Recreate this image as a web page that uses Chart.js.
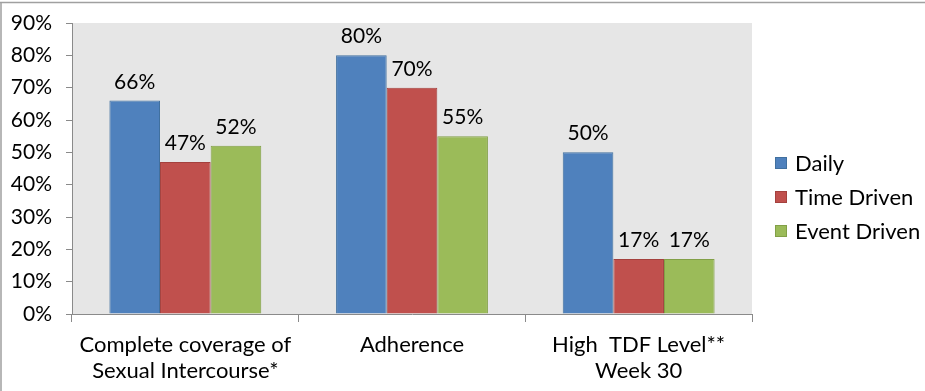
<!DOCTYPE html>
<html>
<head>
<meta charset="utf-8">
<script src="https://cdn.jsdelivr.net/npm/chart.js@4/dist/chart.umd.min.js"></script>
<style>
  html, body { margin: 0; padding: 0; background: #fff; }
  #wrap { position: relative; width: 925px; height: 391px; }
</style>
</head>
<body>
<div id="wrap"><canvas id="c" width="925" height="391"></canvas></div>
<script>
// Outcome categories (multi-line labels)
const categories = [
  ["Complete coverage of", "Sexual Intercourse*"],
  ["Adherence"],
  ["High  TDF Level**", "Week 30"]
];
const seriesNames = ["Daily", "Time Driven", "Event Driven"];
const daily = [66, 80, 50];
const timeDriven = [47, 70, 17];
const eventDriven = [52, 55, 17];
const yTicks = [0, 10, 20, 30, 40, 50, 60, 70, 80, 90];

const FONT = "Lato, 'Gill Sans', 'Open Sans', sans-serif";
const fills = ["#4f81bd", "#c0504d", "#9bbb59"];
const edges = ["#41709f", "#a4413e", "#82a047"];
const values = [daily, timeDriven, eventDriven];

// Grey plot background and outer frame lines
const backdrop = {
  id: "backdrop",
  beforeDraw(chart) {
    const { ctx, chartArea: a } = chart;
    ctx.save();
    ctx.fillStyle = "#e6e6e6";
    ctx.fillRect(a.left, a.top, a.right - a.left, a.bottom - a.top);
    ctx.strokeStyle = "#a0a0a0";
    ctx.lineWidth = 1.5;
    ctx.beginPath();
    ctx.moveTo(0, 2.5); ctx.lineTo(chart.width, 2.5);
    ctx.moveTo(1, 2.5); ctx.lineTo(1, chart.height);
    ctx.stroke();
    ctx.restore();
  }
};

// Percentage labels above each bar
const barLabels = {
  id: "barLabels",
  afterDatasetsDraw(chart) {
    const { ctx } = chart;
    ctx.save();
    ctx.font = "21px " + FONT;
    ctx.fillStyle = "#000";
    ctx.textAlign = "center";
    ctx.textBaseline = "alphabetic";
    chart.data.datasets.forEach((ds, di) => {
      chart.getDatasetMeta(di).data.forEach((bar, i) => {
        ctx.fillText(ds.data[i] + "%", bar.x, bar.y - 12);
      });
    });
    ctx.restore();
  }
};

// Legend drawn at the right, square swatches
const sideLegend = {
  id: "sideLegend",
  afterDraw(chart) {
    const { ctx } = chart;
    ctx.save();
    ctx.font = "22px " + FONT;
    ctx.textBaseline = "middle";
    ctx.textAlign = "left";
    chart.data.datasets.forEach((ds, i) => {
      const cy = 163 + i * 34;
      ctx.fillStyle = ds.backgroundColor;
      ctx.fillRect(775, cy - 6, 12, 12);
      ctx.strokeStyle = ds.borderColor;
      ctx.lineWidth = 1;
      ctx.strokeRect(775.5, cy - 5.5, 11, 11);
      ctx.fillStyle = "#000";
      ctx.fillText(ds.label, 795, cy + 1);
    });
    ctx.restore();
  }
};

new Chart(document.getElementById("c"), {
  type: "bar",
  data: {
    labels: categories,
    datasets: seriesNames.map((name, i) => ({
      label: name,
      data: values[i],
      backgroundColor: fills[i],
      borderColor: edges[i],
      borderWidth: 1,
      borderSkipped: "bottom",
      barPercentage: 1,
      categoryPercentage: 0.67
    }))
  },
  options: {
    responsive: false,
    animation: false,
    events: [],
    layout: { padding: { top: 23, right: 173, left: 0, bottom: 0 } },
    plugins: { legend: { display: false }, tooltip: { enabled: false } },
    scales: {
      x: {
        grid: { drawOnChartArea: false, drawTicks: true, tickLength: 8, color: "#8a8a8a", offset: true },
        border: { color: "#8a8a8a", width: 1 },
        ticks: { color: "#000", font: { family: FONT, size: 22, lineHeight: 1.22 }, padding: 9, maxRotation: 0, autoSkip: false },
        afterFit(s) { s.height = 77; }
      },
      y: {
        min: 0,
        max: 90,
        afterBuildTicks(s) { s.ticks = yTicks.map(v => ({ value: v })); },
        grid: { drawOnChartArea: false, drawTicks: true, tickLength: 6, color: "#8a8a8a" },
        border: { color: "#8a8a8a", width: 1 },
        ticks: { color: "#000", font: { family: FONT, size: 21 }, padding: 14, callback: v => v + "%" },
        afterFit(s) { s.width = 72; s.paddingTop = 0; s.paddingBottom = 0; }
      }
    }
  },
  plugins: [backdrop, barLabels, sideLegend]
});
</script>
</body>
</html>
